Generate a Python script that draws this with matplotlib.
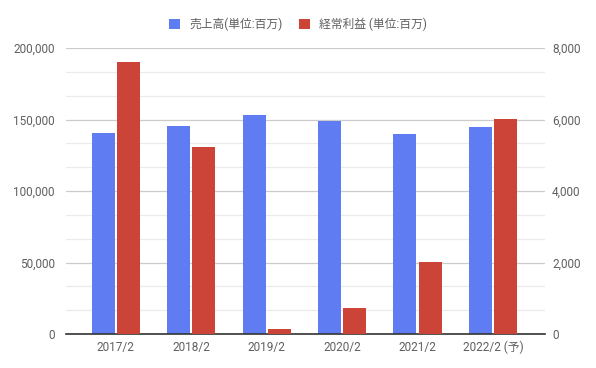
import numpy as np
import matplotlib
matplotlib.use("Agg")
import matplotlib.pyplot as plt
from matplotlib.ticker import FuncFormatter, MultipleLocator

plt.rcParams['font.family'] = ['Roboto', 'Noto Sans CJK JP', 'DejaVu Sans']

# data
years = ["2017/2", "2018/2", "2019/2", "2020/2", "2021/2", "2022/2 (予)"]
sales = [140500, 145500, 153000, 149000, 140000, 145000]
profit = [7600, 5230, 140, 730, 2020, 6020]
sales_label = "売上高(単位:百万)"
profit_label = "経常利益 (単位:百万)"

blue = "#5f7cf2"
red = "#cc4438"
txt = "#5f5f5f"
fs = 8.5

fig = plt.figure(figsize=(5.96, 3.68), dpi=100)
ax = fig.add_axes([66 / 596, 1 - 334 / 368, (545 - 66) / 596, (334 - 48) / 368])
ax2 = ax.twinx()

x = np.arange(len(years))
w = 0.305
gap = 0.014
ax.bar(x - w / 2 - gap, sales, w, color=blue, zorder=3, label=sales_label)
ax2.bar(x + w / 2 + gap, profit, w, color=red, zorder=3, label=profit_label)

ax.set_ylim(0, 200000)
ax2.set_ylim(0, 8000)
ax.set_xlim(-0.66, 5.69)

ax.yaxis.set_major_locator(MultipleLocator(50000))
ax.yaxis.set_minor_locator(MultipleLocator(50000 / 3))
ax2.yaxis.set_major_locator(MultipleLocator(2000))
fmt = FuncFormatter(lambda v, p: f"{int(v):,}")
ax.yaxis.set_major_formatter(fmt)
ax2.yaxis.set_major_formatter(fmt)

ax.grid(axis='y', which='major', color='#cccccc', lw=0.9, zorder=0)
ax.grid(axis='y', which='minor', color='#ebebeb', lw=0.9, zorder=0)
ax.set_axisbelow(True)

ax.set_zorder(1)
ax.patch.set_visible(False)
ax2.set_zorder(2)
ax2.patch.set_visible(False)

for a in (ax, ax2):
    for s in a.spines.values():
        s.set_visible(False)
    a.tick_params(length=0, colors=txt, labelsize=fs)
ax.tick_params(axis='y', pad=8)
ax2.tick_params(axis='y', pad=5)
ax.tick_params(axis='y', which='minor', length=0)
ax.spines['bottom'].set_visible(True)
ax.spines['bottom'].set_color('#333333')
ax.spines['bottom'].set_linewidth(1.2)
ax.spines['bottom'].set_zorder(5)

ax.set_xticks(x)
ax.set_xticklabels(years)
ax.tick_params(axis='x', pad=5)

h1, l1 = ax.get_legend_handles_labels()
h2, l2 = ax2.get_legend_handles_labels()
fig.legend(h1 + h2, l1 + l2, loc='center', bbox_to_anchor=(0.5, 1 - 24 / 368),
           ncol=2, frameon=False, fontsize=fs, labelcolor=txt,
           handlelength=0.95, handleheight=0.95, handletextpad=0.75, columnspacing=1.4)

fig.savefig("out.png", dpi=100)
